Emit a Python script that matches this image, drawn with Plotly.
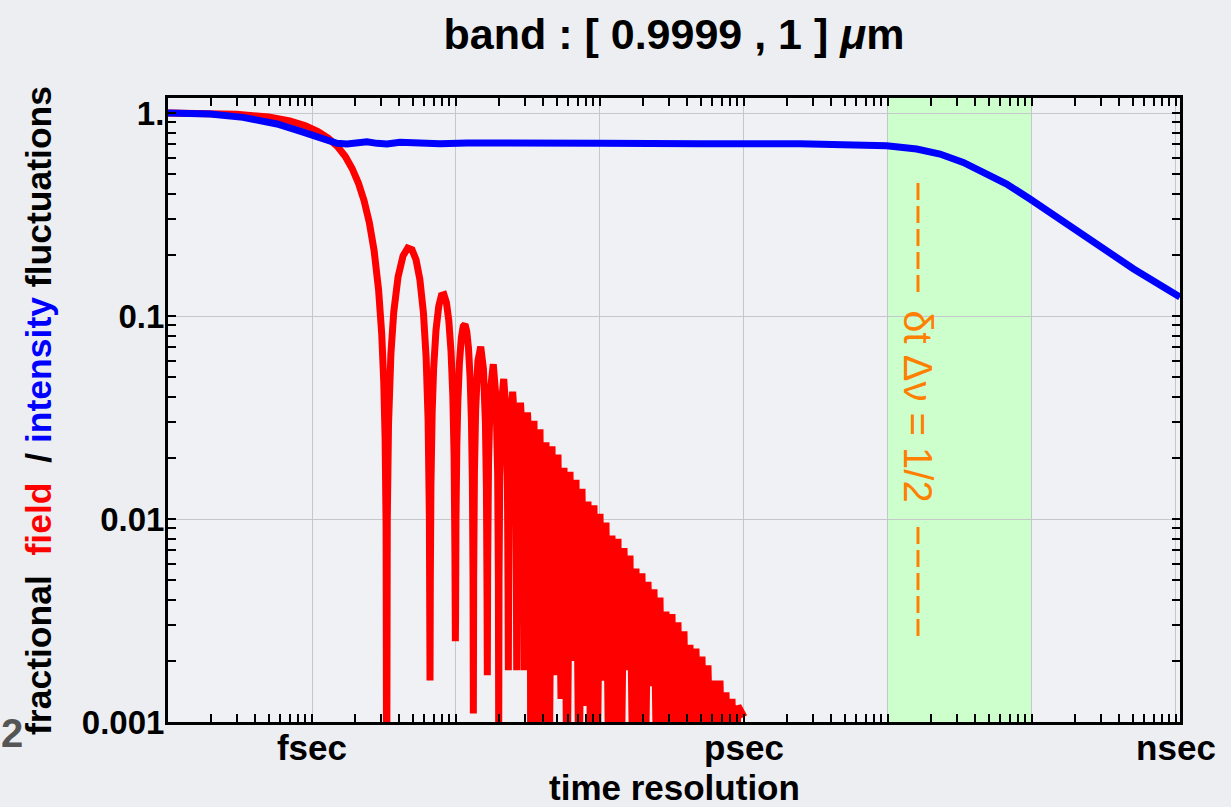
import math
import plotly.graph_objects as go

# time axis in femtoseconds (fsec = 1, psec = 1e3, nsec = 1e6)

# fractional field fluctuations (red)
t_red_fs = [
    # main lobe
    0.1, 0.3, 0.5, 0.7, 0.9, 1.1, 1.3, 1.5, 1.7, 1.9,
    2.1, 2.3, 2.5, 2.7, 2.9, 3.05, 3.15, 3.22, 3.27, 3.30,
    # lobe 1
    3.333, 3.399, 3.531, 3.696, 3.96, 4.29, 4.62, 4.95, 5.28, 5.61,
    5.94, 6.204, 6.402, 6.534, 6.60,
    # lobe 2
    6.633, 6.699, 6.831, 6.996, 7.26, 7.59, 7.92, 8.25, 8.58, 8.91,
    9.24, 9.504, 9.702, 9.834, 9.90,
    # lobe 3
    9.933, 9.999, 10.131, 10.296, 10.56, 10.89, 11.22, 11.55, 11.88, 12.21,
    12.54, 12.804, 13.002, 13.134, 13.20,
    # lobe 4
    13.266, 13.431, 13.695, 14.19, 14.85, 15.51, 16.005, 16.269, 16.434, 16.50,
    # lobes 5 - 9
    16.599, 16.83, 17.325, 18.15, 18.975, 19.47, 19.701, 19.80,
    19.899, 20.13, 20.625, 21.45, 22.275, 22.77, 23.001, 23.10,
    23.199, 23.43, 23.925, 24.75, 25.575, 26.07, 26.301, 26.40,
    26.499, 26.73, 27.225, 28.05, 28.875, 29.37, 29.601, 29.70,
    29.799, 30.03, 30.525, 31.35, 32.175, 32.67, 32.901, 33.00,
    # dense tail
    34.81, 36.52, 38.31, 40.20, 42.17, 44.25, 46.42, 48.70, 51.09, 53.61,
    56.24, 59.01, 61.90, 64.94, 68.13, 71.48, 74.99, 78.68, 82.54, 86.60,
    90.85, 95.32, 100.0, 104.92, 110.07, 115.48, 121.15, 127.11, 133.35, 139.91,
    146.78, 154.00, 161.56, 169.51, 177.83, 186.58, 195.73, 205.37, 215.44, 226.05,
    237.14, 248.81, 261.02, 273.86, 287.30, 301.44, 316.23, 331.79, 348.07, 365.20,
    383.12, 401.97, 421.70, 442.45, 464.16, 487.00, 510.90, 536.04, 562.34, 590.02,
    618.97, 649.43, 681.29, 714.83, 749.89, 786.81, 825.40, 866.04, 908.52, 1000.0,
]
red_field = [
    1.0, 0.985, 0.955, 0.915, 0.865, 0.81, 0.75, 0.685, 0.612, 0.533,
    0.452, 0.370, 0.289, 0.210, 0.1346, 0.0815, 0.0474, 0.0248, 0.0092, 0.0003,
    0.0099, 0.0291, 0.0649, 0.1046, 0.1559, 0.1981, 0.2163, 0.2122, 0.1892, 0.1515,
    0.1039, 0.0623, 0.0307, 0.0101, 0.0016,
    0.0050, 0.0148, 0.0335, 0.0553, 0.0850, 0.1120, 0.1261, 0.1273, 0.1164, 0.0954,
    0.0668, 0.0407, 0.0203, 0.0067, 0.0025,
    0.0033, 0.0099, 0.0226, 0.0376, 0.0585, 0.0780, 0.0890, 0.0909, 0.0841, 0.0696,
    0.0492, 0.0302, 0.0151, 0.0050, 0.0011,
    0.0050, 0.0171, 0.0348, 0.0599, 0.0707, 0.0548, 0.0298, 0.0141, 0.0040, 0.0017,
    0.0060, 0.0193, 0.0429, 0.0579, 0.0391, 0.0167, 0.0050, 0.0008,
    0.0050, 0.0161, 0.0360, 0.0490, 0.0333, 0.0143, 0.0043, 0.0018,
    0.0043, 0.0139, 0.0310, 0.0424, 0.0290, 0.0125, 0.0038, 0.0018,
    0.0037, 0.0121, 0.0273, 0.0374, 0.0257, 0.0111, 0.0033, 0.0018,
    0.0033, 0.0108, 0.0243, 0.0335, 0.0231, 0.0099, 0.0030, 0.0006,
    0.0305, 0.0004, 0.0277, 0.0004, 0.0239, 0.0004, 0.0228, 0.0017, 0.0208, 0.0013,
    0.0179, 0.0004, 0.0171, 0.0020, 0.0156, 0.0004, 0.0141, 0.0012, 0.0122, 0.0004,
    0.0117, 0.0004, 0.0106, 0.0016, 0.0096, 0.0004, 0.0083, 0.0004, 0.0080, 0.0004,
    0.0072, 0.0018, 0.0066, 0.0004, 0.0057, 0.0004, 0.0054, 0.0004, 0.0049, 0.0015,
    0.0045, 0.0004, 0.0041, 0.0004, 0.0035, 0.0004, 0.0034, 0.0004, 0.0031, 0.0004,
    0.0028, 0.0004, 0.0024, 0.0004, 0.0023, 0.0004, 0.0021, 0.0004, 0.0019, 0.0004,
    0.0016, 0.0004, 0.0016, 0.0004, 0.0014, 0.0004, 0.0013, 0.0004, 0.0012, 0.00106,
]

# fractional intensity fluctuations (blue)
t_blue_fs = [
    0.1, 0.196, 0.332, 0.571, 0.825, 1.016, 1.271, 1.491, 1.750, 2.053,
    2.409, 2.828, 3.318, 4.084, 5.623, 7.743, 11.92, 20.21, 100.0, 494.9,
    2448, 9795, 15823, 22971, 33340, 45890, 66720, 96850, 174180, 296650,
    505200, 861700, 1066000,
]
blue_intensity = [
    1.0, 0.989, 0.952, 0.883, 0.815, 0.771, 0.728, 0.710, 0.704, 0.717,
    0.722, 0.709, 0.704, 0.718, 0.710, 0.705, 0.712, 0.709, 0.709, 0.706,
    0.706, 0.690, 0.665, 0.628, 0.571, 0.510, 0.447, 0.377, 0.284, 0.222,
    0.171, 0.136, 0.124,
]

band_fs = [1.0e4, 1.0e5]      # shaded green region
dt_half_fs = 16160            # dt * dnu = 1/2

x_tick_vals = [0.1, 1, 10, 100, 1e3, 1e4, 1e5, 1e6]
x_tick_text = ["", "fsec", "", "", "psec", "", "", "nsec"]
y_tick_vals = [0.001, 0.01, 0.1, 1]
y_tick_text = ["0.001", "0.01", "0.1", "1."]

x_minor = [m * 10.0 ** e for e in range(-1, 7) for m in range(2, 10)]
y_minor = [m * 10.0 ** e for e in range(-3, 0) for m in range(2, 10)]

FONT = "Liberation Sans, Arial, Helvetica, sans-serif"
ORANGE = "#ff8000"

fig = go.Figure()
fig.add_trace(go.Scatter(x=t_red_fs, y=red_field, mode="lines",
                         line=dict(color="#ff0000", width=7, simplify=False),
                         showlegend=False))
fig.add_trace(go.Scatter(x=t_blue_fs, y=blue_intensity, mode="lines",
                         line=dict(color="#0000ff", width=7), showlegend=False))

axis_common = dict(
    type="log", showline=True, linecolor="black", linewidth=3, mirror="allticks",
    ticks="inside", ticklen=8, tickwidth=2, tickcolor="black",
    showgrid=True, gridcolor="#c6c7cb", gridwidth=1, zeroline=False,
)

fig.update_xaxes(
    **axis_common,
    range=[-1, 6.028],
    tickmode="array", tickvals=x_tick_vals, ticktext=x_tick_text,
    tickfont=dict(family=FONT, size=35, color="black", weight="bold"),
    ticklabelstandoff=-7,
    minor=dict(tickmode="array", tickvals=x_minor, ticks="inside", ticklen=8,
               tickwidth=2, tickcolor="black", showgrid=False),
)
fig.update_yaxes(
    **axis_common,
    range=[-3, 0.074],
    tickmode="array", tickvals=y_tick_vals, ticktext=y_tick_text,
    tickfont=dict(family=FONT, size=33, color="black", weight="bold"),
    ticklabelstandoff=-6,
    minor=dict(tickmode="array", tickvals=y_minor, ticks="inside", ticklen=8,
               tickwidth=2, tickcolor="black", showgrid=False),
)

# green band + dashed marker
fig.add_shape(type="rect", xref="x", yref="paper", x0=band_fs[0], x1=band_fs[1],
              y0=0, y1=1, fillcolor="#ccffcc", line=dict(width=0), layer="between")
for y0, y1 in [(0.8638, 0.6875), (0.3125, 0.1362)]:
    fig.add_shape(type="line", xref="x", yref="paper", x0=dt_half_fs, x1=dt_half_fs,
                  y0=y0, y1=y1, line=dict(color=ORANGE, width=3, dash="17px,6px"))

fig.add_annotation(x=math.log10(dt_half_fs), xref="x", y=0.506, yref="paper",
                   text="δt Δν = 1/2", textangle=90, showarrow=False,
                   xanchor="center", yanchor="middle",
                   font=dict(family=FONT, size=40, color=ORANGE))

y_title = ("<b>fractional&nbsp;&nbsp;<span style='color:#ff0000'>field</span>"
           "&nbsp;&nbsp;/ <span style='color:#0000ff'>intensity</span> fluctuations</b>")
fig.add_annotation(x=-0.1275, xref="paper", y=0.5, yref="paper", text=y_title,
                   textangle=-90, showarrow=False, xanchor="center", yanchor="middle",
                   font=dict(family=FONT, size=35.5, color="black"))
fig.add_annotation(x=0.5, xref="paper", y=-0.1042, yref="paper",
                   text="<b>time resolution</b>", showarrow=False,
                   xanchor="center", yanchor="middle",
                   font=dict(family=FONT, size=35, color="black"))
fig.add_annotation(x=-0.154, xref="paper", y=-0.0176, yref="paper",
                   text="<b>2</b>", showarrow=False, xanchor="center", yanchor="middle",
                   font=dict(family=FONT, size=40, color="#555555"))

fig.update_layout(
    width=1231, height=807, autosize=False,
    margin=dict(l=168, r=51, t=98, b=85),
    paper_bgcolor="#eceef2", plot_bgcolor="#eff1f4",
    title=dict(text="<b>band : [ 0.9999 , 1 ] <i>μ</i>m</b>", x=0.5, xref="paper",
               xanchor="center", y=0.958, yref="container", yanchor="middle",
               font=dict(family=FONT, size=43, color="black")),
)

fig.write_html("out.html", config={"displayModeBar": False},
               post_script="document.body.style.margin='0px';")
